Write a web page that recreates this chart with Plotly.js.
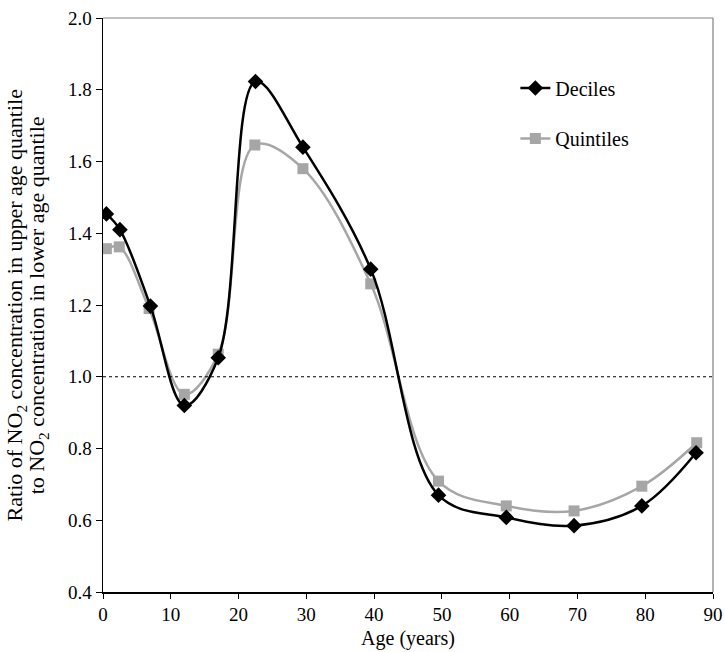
<!DOCTYPE html>
<html>
<head>
<meta charset="utf-8">
<script src="https://cdn.plot.ly/plotly-3.0.1.min.js"></script>
<style>
html,body{margin:0;padding:0;background:#fff;}
#chart{width:725px;height:652px;}
#chart text{font-family:"Liberation Serif","Tinos","Times New Roman","DejaVu Serif",serif !important;}
</style>
</head>
<body>
<div id="chart"></div>
<script>
const ageDeciles = [0.5, 2.5, 7, 12, 17, 22.5, 29.5, 39.5, 49.5, 59.5, 69.5, 79.5, 87.5];
const ratioDeciles = [1.454, 1.410, 1.197, 0.920, 1.053, 1.823, 1.640, 1.300, 0.670, 0.608, 0.585, 0.640, 0.788];
const ageQuintiles = [0.5, 2.4, 6.8, 12, 17, 22.4, 29.5, 39.5, 49.5, 59.5, 69.5, 79.5, 87.6];
const ratioQuintiles = [1.357, 1.362, 1.190, 0.951, 1.063, 1.646, 1.580, 1.259, 0.709, 0.640, 0.626, 0.695, 0.816];
const xTicks = [0, 10, 20, 30, 40, 50, 60, 70, 80, 90];
const yTicks = [0.4, 0.6, 0.8, 1.0, 1.2, 1.4, 1.6, 1.8, 2.0];
const referenceRatio = 1.0;

const FONT = "Liberation Serif";

const traces = [
  {
    x: ageQuintiles, y: ratioQuintiles, name: "Quintiles", type: "scatter", mode: "lines+markers",
    line: {color: "#a6a6a6", width: 2.5, shape: "spline", smoothing: 1},
    marker: {symbol: "square", size: 11, color: "#a6a6a6"},
    legend: "legend2"
  },
  {
    x: ageDeciles, y: ratioDeciles, name: "Deciles", type: "scatter", mode: "lines+markers",
    line: {color: "#000000", width: 2.5, shape: "spline", smoothing: 1},
    marker: {symbol: "diamond", size: 12, color: "#000000"},
    legend: "legend"
  }
];

const layout = {
  width: 725, height: 652,
  margin: {l: 103, r: 12, t: 18, b: 60},
  paper_bgcolor: "#fff", plot_bgcolor: "#fff",
  font: {family: FONT, size: 19, color: "#000"},
  showlegend: true,
  legend: {x: 0.676, y: 0.878, xanchor: "left", yanchor: "middle", bgcolor: "rgba(0,0,0,0)", font: {size: 20, family: FONT, color: "#000"}},
  legend2: {x: 0.676, y: 0.790, xanchor: "left", yanchor: "middle", bgcolor: "rgba(0,0,0,0)", font: {size: 20, family: FONT, color: "#000"}},
  xaxis: {
    range: [0, 90], tickvals: xTicks, ticks: "outside", ticklen: 5, tickwidth: 1, tickcolor: "#000",
    showline: true, linecolor: "#000", linewidth: 1.5, showgrid: false, zeroline: false,
    tickfont: {size: 19, family: FONT, color: "#000"},
    title: {text: "Age (years)", font: {size: 20, family: FONT, color: "#000"}, standoff: 6}
  },
  yaxis: {
    range: [0.4, 2.0], tickvals: yTicks, tickformat: ".1f", ticks: "outside", ticklen: 6, tickwidth: 1, tickcolor: "#000",
    showline: true, linecolor: "#000", linewidth: 1.5, showgrid: false, zeroline: false,
    tickfont: {size: 19, family: FONT, color: "#000"}
  },
  shapes: [
    {type: "line", xref: "x", yref: "y", x0: 0, x1: 90, y0: referenceRatio, y1: referenceRatio,
     line: {color: "#000", width: 1, dash: "dot"}},
    {type: "line", xref: "paper", yref: "paper", x0: 0, x1: 1, y0: 1, y1: 1, line: {color: "#808080", width: 1.2}},
    {type: "line", xref: "paper", yref: "paper", x0: 1, x1: 1, y0: 0, y1: 1, line: {color: "#808080", width: 1.2}}
  ],
  annotations: [
    {text: "Ratio of NO<sub>2</sub> concentration in upper age quantile", xref: "paper", yref: "paper",
     x: -0.142, y: 0.5, xanchor: "center", yanchor: "middle", textangle: -90, showarrow: false,
     font: {size: 22, family: FONT, color: "#000"}},
    {text: "to NO<sub>2</sub> concentration in lower age quantile", xref: "paper", yref: "paper",
     x: -0.106, y: 0.5, xanchor: "center", yanchor: "middle", textangle: -90, showarrow: false,
     font: {size: 22, family: FONT, color: "#000"}}
  ]
};

Plotly.newPlot("chart", traces, layout, {staticPlot: true, displayModeBar: false});
</script>
</body>
</html>
